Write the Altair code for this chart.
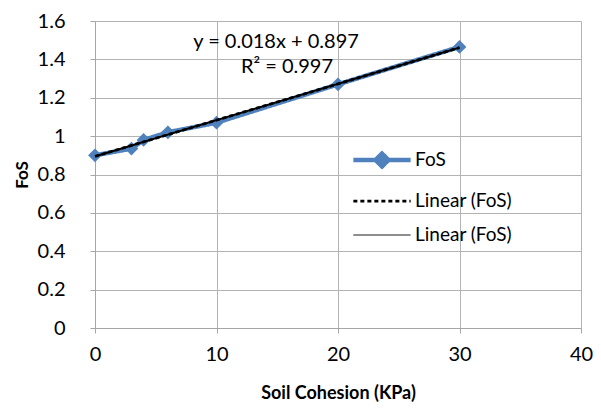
import altair as alt
import pandas as pd

cohesion = [0, 3, 4, 6, 10, 20, 30]
fos = [0.90, 0.935, 0.98, 1.02, 1.07, 1.27, 1.465]

series_names = ["FoS", "Linear (FoS) ", "Linear (FoS)"]
series_colors = ["#4F81BD", "#000000", "#000000"]
series_dash = [[1, 0], [4, 3], [1, 0]]
series_width = [4.5, 1, 1.3]
series_shapes = [
    "M-2,0L2,0M0,-0.45L0.45,0L0,0.45L-0.45,0Z",
    "M-2,0L2,0",
    "M-2,0L2,0",
]

eq_text = ["y = 0.018x + 0.897", "R² = 0.997"]
eq_x = [14.9, 15.8]
eq_y = [1.49, 1.36]

y_ticks = [0, 0.2, 0.4, 0.6, 0.8, 1, 1.2, 1.4, 1.6]
x_ticks = [0, 10, 20, 30, 40]

df = pd.DataFrame({"x": cohesion, "y": fos, "series": series_names[0]})
ann = pd.DataFrame({"t": eq_text, "x": eq_x, "y": eq_y})

FONT = "Lato"

xs = alt.Scale(domain=[0, 40])
ys = alt.Scale(domain=[0, 1.6])

leg = alt.Legend(
    title=None,
    orient="none",
    legendX=270,
    legendY=122,
    symbolSize=820,
    labelFontSize=19,
    labelFont=FONT,
    labelColor="#000000",
    rowPadding=9,
    labelOffset=16,
    symbolStrokeColor="#000000",
)

color = alt.Color("series:N", scale=alt.Scale(domain=series_names, range=series_colors), legend=leg)
dash = alt.StrokeDash("series:N", scale=alt.Scale(domain=series_names, range=series_dash), legend=leg)
sw = alt.StrokeWidth("series:N", scale=alt.Scale(domain=series_names, range=series_width), legend=leg)
shape = alt.Shape("series:N", scale=alt.Scale(domain=series_names, range=series_shapes), legend=leg)

xaxis = alt.Axis(values=x_ticks, titlePadding=20, labelFlush=False)
yaxis = alt.Axis(
    values=y_ticks,
    tickCount=9,
    labelExpr="format(datum.value, '~g')",
    labelOverlap=False,
    labelFlush=False,
    titlePadding=6,
)
xenc = alt.X("x:Q", scale=xs, title="Soil Cohesion (KPa)", axis=xaxis)
yenc = alt.Y("y:Q", scale=ys, title="FoS", axis=yaxis)

base = alt.Chart(df)

line = base.mark_line().encode(x=xenc, y=yenc, color=color, strokeDash=dash, strokeWidth=sw, shape=shape)
pts = base.mark_point(shape="diamond", filled=True, size=190, opacity=1, color="#4F81BD").encode(x=xenc, y=yenc)

reg = base.transform_regression("x", "y", extent=[0, 30])
trend_dash = reg.transform_calculate(series="'Linear (FoS) '").mark_line().encode(
    x=xenc, y=yenc, color=color, strokeDash=dash, strokeWidth=sw, shape=shape
)
trend_solid = reg.transform_calculate(series="'Linear (FoS)'").mark_line(strokeWidth=2).encode(
    x=xenc, y=yenc, color=color, strokeDash=dash, shape=shape
)

text = alt.Chart(ann).mark_text(fontSize=20, font=FONT, color="#000000").encode(x=xenc, y=yenc, text="t:N")

chart = (
    alt.layer(line, pts, trend_dash, trend_solid, text)
    .properties(
        width=486,
        height=307,
        autosize=alt.AutoSizeParams(type="none"),
        padding={"left": 87, "top": 13, "right": 12, "bottom": 76},
    )
    .configure_view(stroke=None)
    .configure_axis(
        labelFont=FONT,
        labelFontSize=20,
        labelColor="#000000",
        titleFont=FONT,
        titleFontSize=18,
        titleFontWeight="bold",
        titleColor="#000000",
        gridColor="#B3B3B3",
        gridWidth=1,
        domainColor="#A6A6A6",
        tickColor="#A6A6A6",
        tickSize=5,
    )
    .configure_axisY(labelPadding=25, titleFontSize=17)
    .configure_axisX(labelPadding=11)
)

chart.save("out.html", embed_options={"renderer": "svg", "actions": False})
